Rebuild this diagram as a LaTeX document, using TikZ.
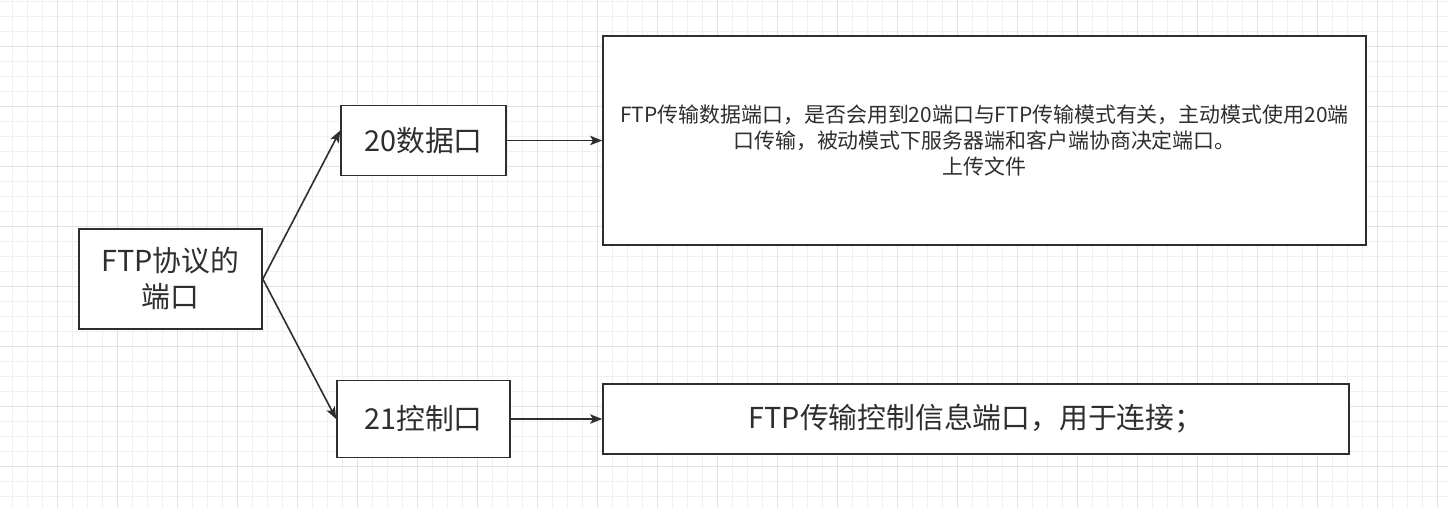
\documentclass[tikz,border=0pt]{standalone}
\usepackage{fontspec}
\setmainfont{Noto Sans CJK SC}
\usetikzlibrary{arrows.meta}
\definecolor{ink}{HTML}{2E2E2E}
\definecolor{gridminor}{HTML}{F0F0F0}
\definecolor{gridmajor}{HTML}{E2E2E2}
\begin{document}
\begin{tikzpicture}[x=0.75pt,y=-0.75pt,
  box/.style={draw=ink,line width=1.2pt,fill=white,inner sep=0pt,text=ink,align=center},
  bigtext/.style={font=\fontsize{21.6pt}{27pt}\selectfont},
  smalltext/.style={font=\fontsize{15.7pt}{19.5pt}\selectfont},
  conn/.style={draw=ink,line width=1.2pt,-{Stealth[length=9pt,width=7pt,inset=2pt]}},
  minorline/.style={draw=gridminor,line width=0.75pt},
  majorline/.style={draw=gridmajor,line width=0.75pt}]
\useasboundingbox (0,0) rectangle (1448,508);
\fill[white] (0,0) rectangle (1448,508);
\foreach \x in {12,27,...,1448} \draw[minorline] (\x,0) -- (\x,508);
\foreach \y in {1,16,...,508} \draw[minorline] (0,\y) -- (1448,\y);
\foreach \x in {57,117,...,1448} \draw[majorline] (\x,0) -- (\x,508);
\foreach \y in {46,106,...,508} \draw[majorline] (0,\y) -- (1448,\y);

\node[box,bigtext,minimum width=137.25pt,minimum height=75pt] (ftp) at (170.5,279) {FTP协议的\\端口};
\node[box,bigtext,minimum width=123.75pt,minimum height=52.5pt] (p20) at (423.5,140.5) {20数据口};
\node[box,bigtext,minimum width=129.75pt,minimum height=57.75pt] (p21) at (423.5,419) {21控制口};
\node[box,smalltext,minimum width=572.25pt,minimum height=156.75pt] (d20) at (984.5,140.5)
  {FTP传输数据端口，是否会用到20端口与FTP传输模式有关，主动模式使用20端\\口传输，被动模式下服务器端和客户端协商决定端口。\\上传文件};
\node[box,bigtext,minimum width=559.5pt,minimum height=52.5pt] (d21) at (976,419) {FTP传输控制信息端口，用于连接；};

\draw[conn] (ftp.east) -- ([yshift=7.5pt]p20.west);
\draw[conn] (ftp.east) -- (p21.west);
\draw[conn] (p20.east) -- (d20.west |- p20.east);
\draw[conn] (p21.east) -- (d21.west |- p21.east);
\end{tikzpicture}
\end{document}
